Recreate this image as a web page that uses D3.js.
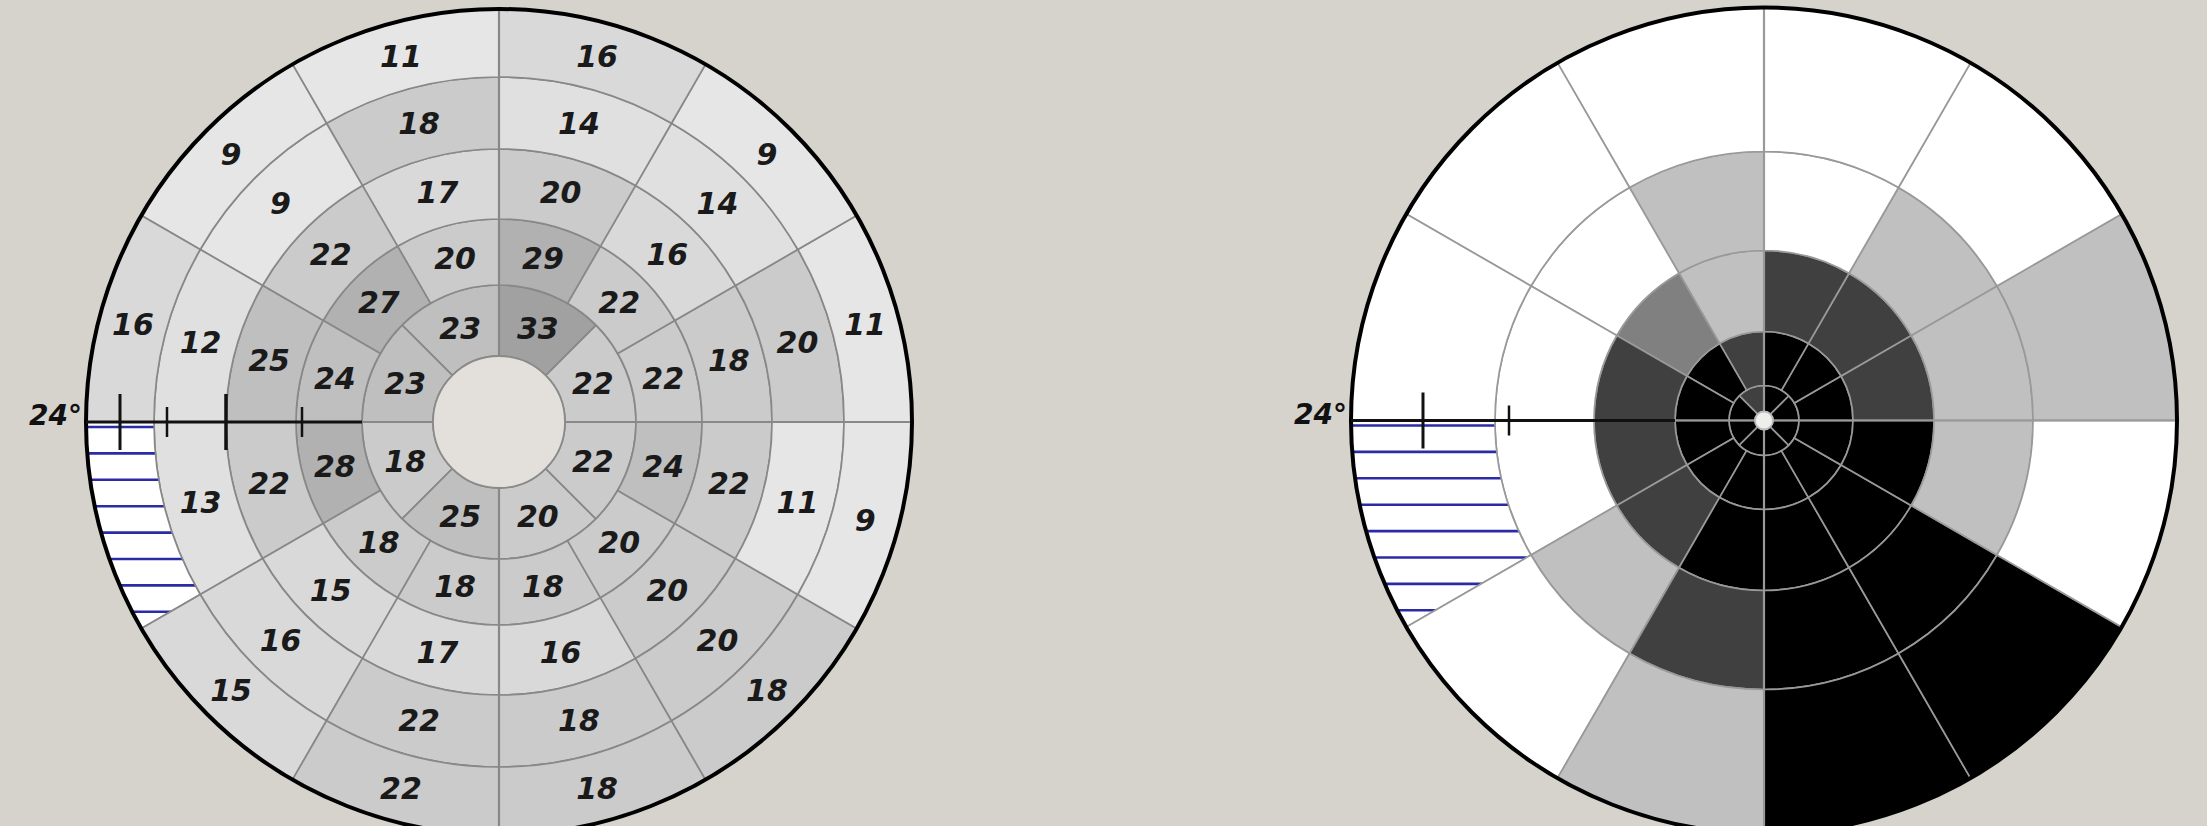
<!DOCTYPE html>
<html><head><meta charset="utf-8">
<script src="https://cdn.jsdelivr.net/npm/d3@7"></script>
<style>html,body{margin:0;padding:0;background:#d6d2cc;overflow:hidden}</style>
</head><body>
<svg id="chart" width="2207" height="826"></svg>
<script>
// ---------------- DATA ----------------
// Sectors start at the right-hand horizontal (0°) and go counter-clockwise.
// Ring 1 = innermost ring (8 sectors of 45°), rings 2-5 have 12 sectors of 30°.
const thresholdRing1 = [22, 33, 23, 23, 18, 25, 20, 22];
const thresholdRing2 = [22, 22, 29, 20, 27, 24, 28, 18, 18, 18, 20, 24];
const thresholdRing3 = [18, 16, 20, 17, 22, 25, 22, 15, 17, 16, 20, 22];
const thresholdRing4 = [20, 14, 14, 18, 9, 12, 13, 16, 22, 18, 20, 11];
const thresholdRing5 = [11, 9, 16, 11, 9, 16, null, 15, 22, 18, 18, 9]; // null = hatched (not tested)

// Probability map classes: 0 = normal, 1 = p<5%, 2 = p<2%, 3 = p<1%, 4 = p<0.5%
const probRing1 = [4, 4, 3, 4, 4, 4, 4, 4];
const probRing2 = [4, 4, 4, 3, 4, 4, 4, 4, 4, 4, 4, 4];
const probRing3 = [3, 3, 3, 1, 2, 3, 3, 3, 4, 4, 4, 4];
const probRing4 = [1, 1, 0, 1, 0, 0, 0, 1, 3, 4, 4, 1];
const probRing5 = [1, 0, 0, 0, 0, 0, null, 0, 1, 4, 4, 0];

const eccentricityLabel = "24°";

// ---------------- LAYOUT / STYLE ----------------
const svg = d3.select("#chart");
const bg = "#d6d2cc";

const leftCfg = {
  cx: 499, cy: 422,
  radii: [66, 137, 203, 273, 345, 413],
  rings: [thresholdRing1, thresholdRing2, thresholdRing3, thresholdRing4, thresholdRing5],
  axisEnd: 137,
  ticks: [{r: 379, h: 28, w: 3}, {r: 332, h: 15, w: 2.5}, {r: 273, h: 28, w: 3.5}, {r: 197, h: 15, w: 2.5}],
  centerFill: "#e3e0db", centerStroke: "#8a8a8a",
  grid: "#888888", gridW: 1.7
};
const rightCfg = {
  cx: 1764, cy: 420.5,
  radii: [9, 35, 89, 170, 269, 413],
  rings: [probRing1, probRing2, probRing3, probRing4, probRing5],
  axisEnd: 89,
  ticks: [{r: 341, h: 28, w: 3}, {r: 255, h: 15, w: 2.5}],
  centerFill: "#eeeeea", centerStroke: "#bbbbbb",
  grid: "#999999", gridW: 1.7
};

const valueFill = d3.scaleThreshold()
  .domain([12, 15, 18, 23, 26, 31])
  .range(["#e6e6e6", "#e0e0e0", "#d9d9d9", "#cbcbcb", "#bfbfbf", "#b1b1b1", "#a1a1a1"]);
const probFill = d3.scaleOrdinal()
  .domain([0, 1, 2, 3, 4])
  .range(["#ffffff", "#c0c0c0", "#808080", "#404040", "#000000"]);

const toRad = d => d * Math.PI / 180;
let clipId = 0;

function drawChart(cfg, fillFn, showValues) {
  const g = svg.append("g").attr("transform", `translate(${cfg.cx},${cfg.cy})`);
  const R = cfg.radii[cfg.radii.length - 1];

  cfg.rings.forEach((ring, i) => {
    const n = ring.length;
    const ang = d3.scaleLinear().domain([0, n]).range([0, 360]); // math degrees, ccw
    const r0 = cfg.radii[i], r1 = cfg.radii[i + 1];
    const arc = d3.arc().innerRadius(r0).outerRadius(r1);
    ring.forEach((v, k) => {
      const a0 = ang(k), a1 = ang(k + 1);
      const d = arc({startAngle: toRad(90 - a1), endAngle: toRad(90 - a0)});
      if (v === null) {
        const id = "hatch" + (clipId++);
        g.append("clipPath").attr("id", id).append("path").attr("d", d);
        g.append("path").attr("d", d).attr("fill", "#ffffff");
        const hg = g.append("g").attr("clip-path", `url(#${id})`);
        d3.range(5, R, 26.4).forEach(y => {
          hg.append("line").attr("x1", -R).attr("x2", 0).attr("y1", y).attr("y2", y)
            .attr("stroke", "#2b2ba6").attr("stroke-width", 2.6);
        });
        g.append("path").attr("d", d).attr("fill", "none")
          .attr("stroke", cfg.grid).attr("stroke-width", cfg.gridW);
      } else {
        g.append("path").attr("d", d).attr("fill", fillFn(v))
          .attr("stroke", cfg.grid).attr("stroke-width", cfg.gridW);
      }
    });
  });

  // main cross lines
  const r0 = cfg.radii[0];
  [[-R, 0, -r0, 0], [r0, 0, R, 0], [0, -R, 0, -r0], [0, r0, 0, R]].forEach(l => {
    g.append("line").attr("x1", l[0]).attr("y1", l[1]).attr("x2", l[2]).attr("y2", l[3])
      .attr("stroke", cfg.grid).attr("stroke-width", 2.2);
  });

  // center
  g.append("circle").attr("r", r0).attr("fill", cfg.centerFill)
    .attr("stroke", cfg.centerStroke).attr("stroke-width", 1.8);

  // value labels
  if (showValues) {
    cfg.rings.forEach((ring, i) => {
      const n = ring.length;
      const ang = d3.scaleLinear().domain([0, n]).range([0, 360]);
      const rm = (cfg.radii[i] + cfg.radii[i + 1]) / 2;
      ring.forEach((v, k) => {
        if (v === null) return;
        const a = toRad(ang(k + 0.5));
        g.append("text")
          .attr("x", rm * Math.cos(a)).attr("y", -rm * Math.sin(a))
          .attr("dy", "0.36em")
          .attr("text-anchor", "middle")
          .attr("font-family", "'DejaVu Sans', Verdana, sans-serif")
          .attr("font-weight", "bold").attr("font-style", "italic")
          .attr("font-size", 30).attr("fill", "#1a1a1a")
          .text(v);
      });
    });
  }

  // outer circle
  g.append("circle").attr("r", R).attr("fill", "none")
    .attr("stroke", "#000").attr("stroke-width", 4);

  // black scale line with ticks
  g.append("line").attr("x1", -R).attr("x2", -cfg.axisEnd).attr("y1", 0).attr("y2", 0)
    .attr("stroke", "#111").attr("stroke-width", 3);
  cfg.ticks.forEach(t => {
    g.append("line").attr("x1", -t.r).attr("x2", -t.r).attr("y1", -t.h).attr("y2", t.h)
      .attr("stroke", "#111").attr("stroke-width", t.w);
  });

  g.append("text")
    .attr("x", -R - 4).attr("y", 3)
    .attr("text-anchor", "end")
    .attr("font-family", "'DejaVu Sans', Verdana, sans-serif")
    .attr("font-weight", "bold").attr("font-style", "italic")
    .attr("font-size", 28).attr("fill", "#111")
    .text(eccentricityLabel);
}

svg.append("rect").attr("width", 2207).attr("height", 826).attr("fill", bg);
drawChart(leftCfg, valueFill, true);
drawChart(rightCfg, probFill, false);
</script>
</body></html>
